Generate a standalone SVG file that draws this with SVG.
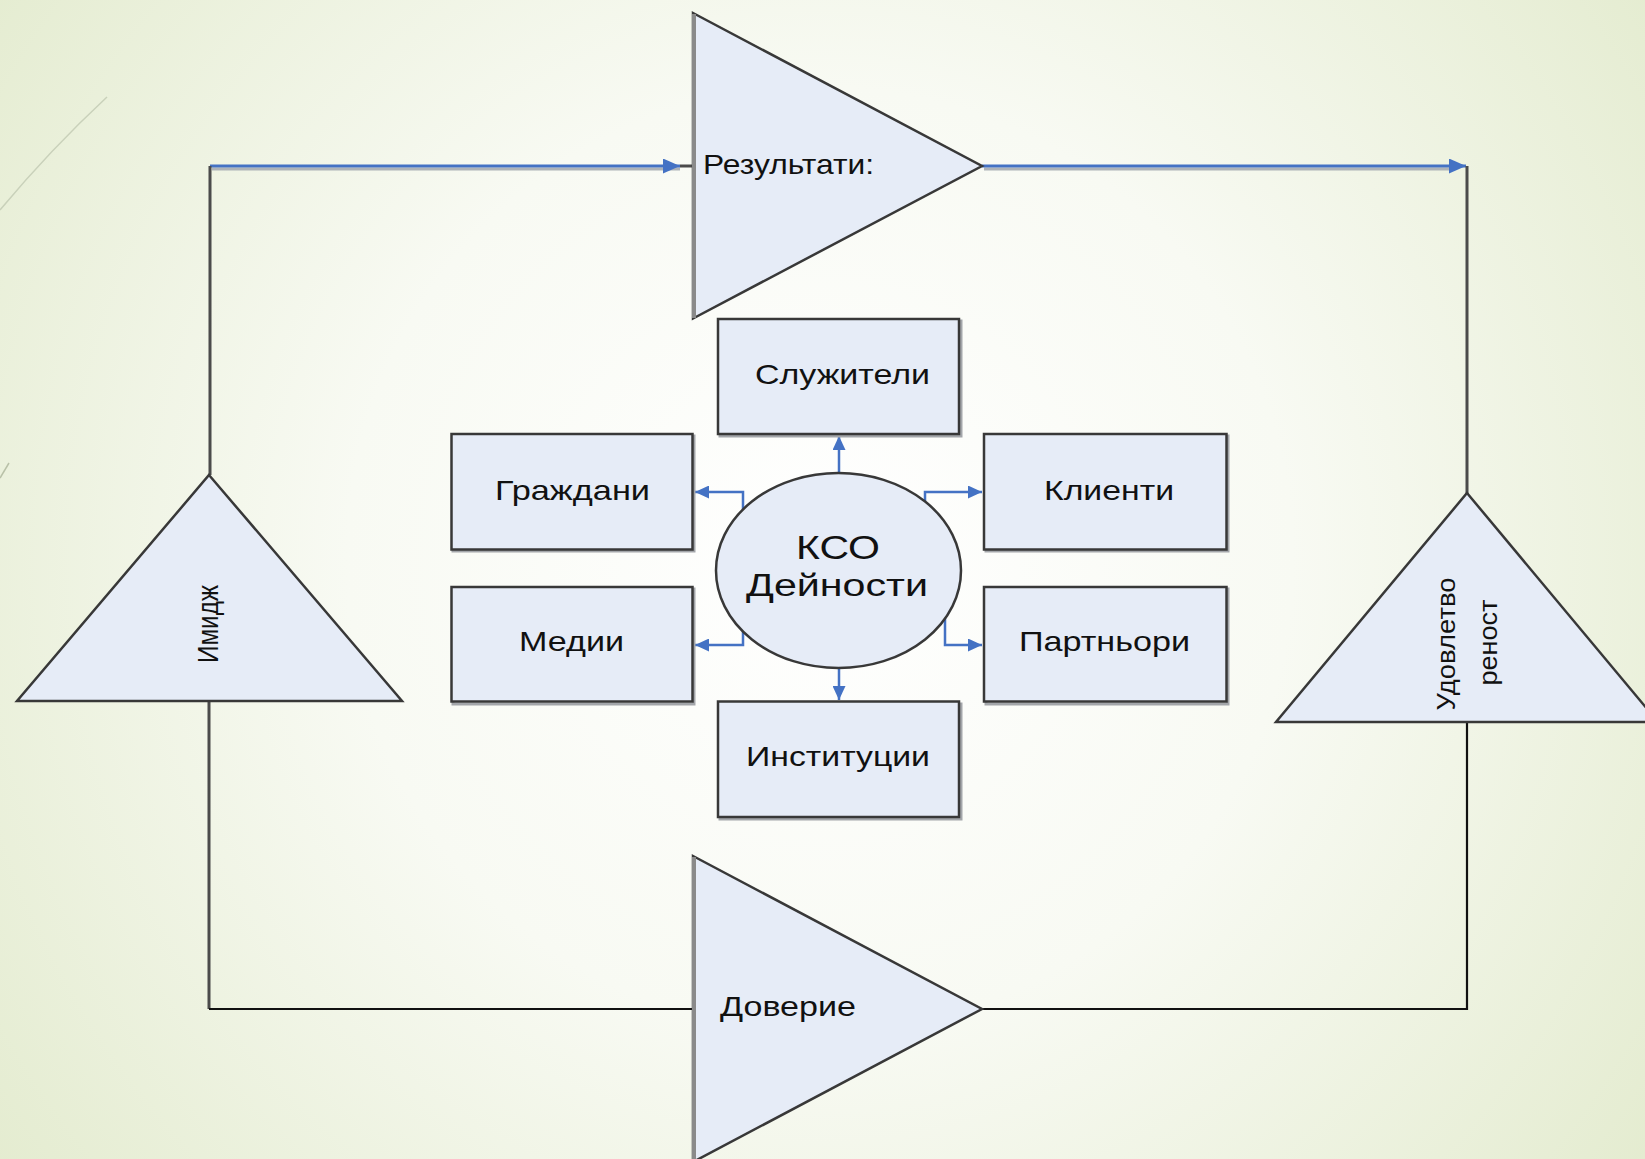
<svg xmlns="http://www.w3.org/2000/svg" width="1645" height="1159" viewBox="0 0 1645 1159">
  <defs>
    <radialGradient id="bg" cx="820" cy="560" r="1050" gradientUnits="userSpaceOnUse">
      <stop offset="0" stop-color="#FFFFFF"/>
      <stop offset="0.45" stop-color="#F8FAF3"/>
      <stop offset="1" stop-color="#E3EBCE"/>
    </radialGradient>
    <marker id="arrS" markerUnits="userSpaceOnUse" markerWidth="14" markerHeight="13" refX="14" refY="6.5" orient="auto">
      <path d="M0,0 L14,6.5 L0,13 z" fill="#4472C4"/>
    </marker>
    <marker id="arrL" markerUnits="userSpaceOnUse" markerWidth="17" markerHeight="15" refX="17" refY="7.5" orient="auto">
      <path d="M0,0 L17,7.5 L0,15 z" fill="#4472C4"/>
    </marker>
  </defs>
  <style>
    .shape { fill: #E6ECF7; stroke: #383838; stroke-width: 2.5; stroke-linejoin: miter; }
    .shadow { fill: none; stroke: #A3A6AA; stroke-width: 3; }
    .lbl { font-family: "Liberation Sans", Arial, sans-serif; fill: #111111; }
    .blue { fill: none; stroke: #4472C4; stroke-width: 3; }
    .blueS { fill: none; stroke: #4472C4; stroke-width: 2.5; }
    .bshadow { fill: none; stroke: #AEB3B8; stroke-width: 3; }
    .dark { fill: none; stroke: #4B4B4B; stroke-width: 3; }
    .black { fill: none; stroke: #111111; stroke-width: 2.2; }
  </style>

  <rect x="0" y="0" width="1645" height="1159" fill="url(#bg)"/>
  <path d="M0,210 Q50,150 107,97" fill="none" stroke="#C9D1BA" stroke-width="1.5"/>
  <path d="M0,478 L9,463" fill="none" stroke="#B9C1A8" stroke-width="1.5"/>

  <g id="connectors">
    <path class="bshadow" d="M212,169 H680"/>
    <path class="bshadow" d="M984,169 H1450"/>
    <path class="blue" d="M210,166 H680" marker-end="url(#arrL)"/>
    <path class="dark" d="M680,166 H693"/>
    <path class="dark" d="M210,166 V475"/>
    <path class="blue" d="M982,166 H1466" marker-end="url(#arrL)"/>
    <path class="dark" d="M1467,166 V494"/>
    <path class="dark" d="M209,701 V1009"/>
    <path class="black" d="M209,1009 H693"/>
    <path class="black" d="M982,1009 H1467 V722"/>

    <path class="blueS" d="M839,473 V436" marker-end="url(#arrS)"/>
    <path class="blueS" d="M839,668 V700" marker-end="url(#arrS)"/>
    <path class="blueS" d="M743,509 V492 H695" marker-end="url(#arrS)"/>
    <path class="blueS" d="M925,501 V492 H982" marker-end="url(#arrS)"/>
    <path class="blueS" d="M743,630 V645 H695" marker-end="url(#arrS)"/>
    <path class="blueS" d="M945,618 V645 H982" marker-end="url(#arrS)"/>
  </g>

  <g id="rezultati">
    <polygon class="shape" points="693,13 982,166 693,318.5"/>
    <line x1="694" y1="14" x2="694" y2="318" stroke="#8A8A8A" stroke-width="4"/>
    <text class="lbl" x="703" y="173.5" font-size="28" textLength="171" lengthAdjust="spacingAndGlyphs">Результати:</text>
  </g>

  <g id="doverie">
    <polygon class="shape" points="693,856 982,1009 693,1162"/>
    <line x1="694" y1="857" x2="694" y2="1160" stroke="#8A8A8A" stroke-width="4"/>
    <text class="lbl" x="720" y="1016" font-size="28" textLength="136" lengthAdjust="spacingAndGlyphs">Доверие</text>
  </g>

  <g id="imidzh">
    <polygon class="shape" points="209,475 402,701 17,701"/>
    <text class="lbl" transform="translate(218,624) rotate(-90)" text-anchor="middle" font-size="30" textLength="78" lengthAdjust="spacingAndGlyphs">Имидж</text>
  </g>

  <g id="udovletvorenost">
    <polygon class="shape" points="1467,493 1658,722 1276,722"/>
    <text class="lbl" transform="translate(1455,644) rotate(-90)" text-anchor="middle" font-size="26" textLength="133" lengthAdjust="spacingAndGlyphs">Удовлетво</text>
    <text class="lbl" transform="translate(1497,642.5) rotate(-90)" text-anchor="middle" font-size="26" textLength="86" lengthAdjust="spacingAndGlyphs">реност</text>
  </g>

  <g id="sluzhiteli">
    <rect class="shadow" x="720" y="321" width="241" height="115"/>
    <rect class="shape" x="718" y="319" width="241" height="115"/>
    <text class="lbl" x="755" y="384" font-size="28" textLength="175" lengthAdjust="spacingAndGlyphs">Служители</text>
  </g>

  <g id="grazhdani">
    <rect class="shadow" x="453" y="436" width="241" height="115"/>
    <rect class="shape" x="451.5" y="434" width="241" height="115.5"/>
    <text class="lbl" x="495" y="499.5" font-size="28" textLength="155" lengthAdjust="spacingAndGlyphs">Граждани</text>
  </g>

  <g id="klienti">
    <rect class="shadow" x="986" y="436" width="242" height="115"/>
    <rect class="shape" x="984" y="434" width="242.5" height="115.5"/>
    <text class="lbl" x="1044" y="500" font-size="28" textLength="130" lengthAdjust="spacingAndGlyphs">Клиенти</text>
  </g>

  <g id="medii">
    <rect class="shadow" x="453" y="589" width="241" height="115"/>
    <rect class="shape" x="451.5" y="587" width="241" height="114.5"/>
    <text class="lbl" x="519" y="651" font-size="28" textLength="105" lengthAdjust="spacingAndGlyphs">Медии</text>
  </g>

  <g id="partnyori">
    <rect class="shadow" x="986" y="589" width="242" height="115"/>
    <rect class="shape" x="984" y="587" width="242.5" height="114.5"/>
    <text class="lbl" x="1019" y="651" font-size="28" textLength="171" lengthAdjust="spacingAndGlyphs">Партньори</text>
  </g>

  <g id="institutsii">
    <rect class="shadow" x="720" y="704" width="241" height="115"/>
    <rect class="shape" x="718" y="701.5" width="241" height="115.5"/>
    <text class="lbl" x="746" y="766" font-size="28" textLength="184" lengthAdjust="spacingAndGlyphs">Институции</text>
  </g>

  <g id="kso">
    <ellipse class="shape" cx="838.5" cy="570.5" rx="122.5" ry="97.5"/>
    <text class="lbl" x="796" y="558.5" font-size="33" textLength="84" lengthAdjust="spacingAndGlyphs">КСО</text>
    <text class="lbl" x="746" y="595.5" font-size="31" textLength="182" lengthAdjust="spacingAndGlyphs">Дейности</text>
  </g>
</svg>
